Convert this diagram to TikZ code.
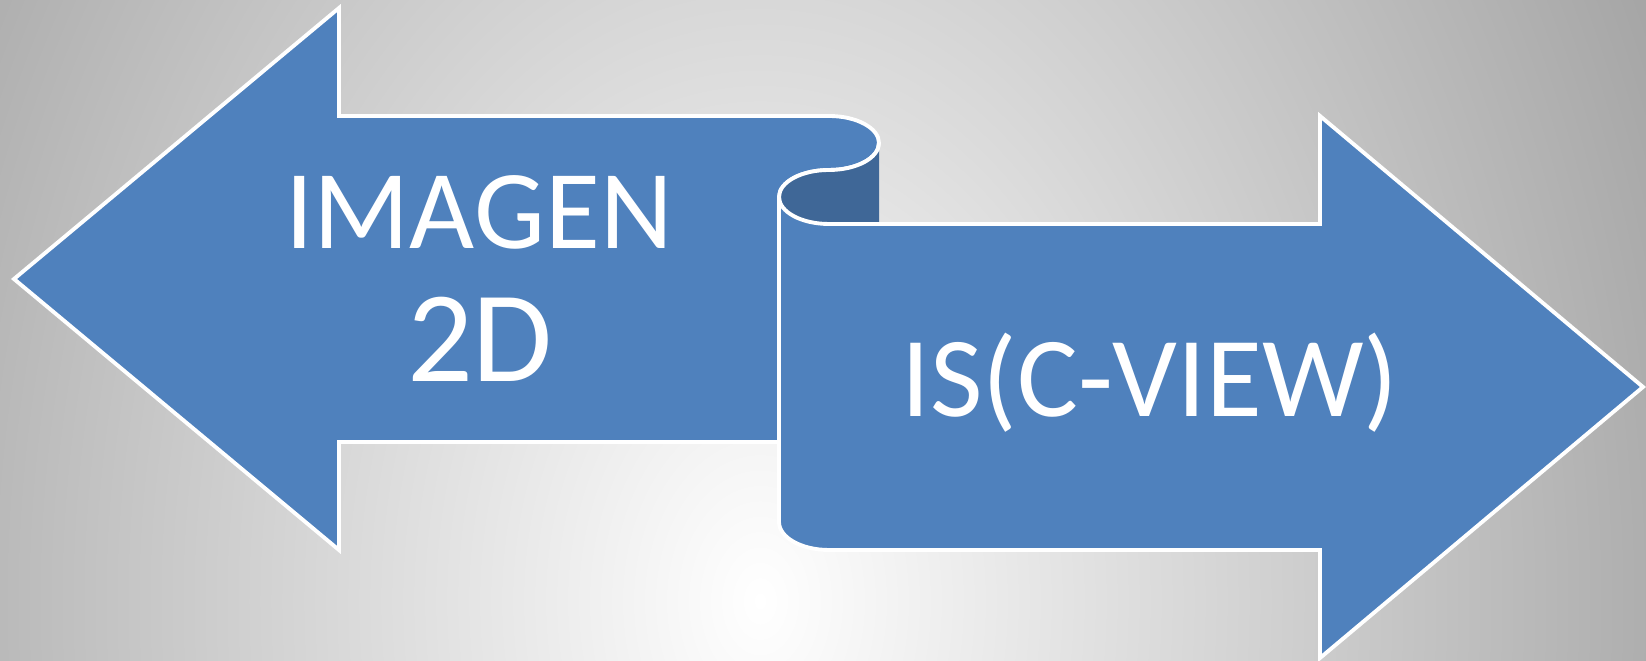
\documentclass[tikz,border=0pt]{standalone}
\usepackage{fontspec}
\setmainfont{Carlito}
\usetikzlibrary{positioning}
\definecolor{arrowblue}{HTML}{4F81BD}
\definecolor{curlblue}{HTML}{3F6797}
\definecolor{bggray}{HTML}{A4A4A4}
\pgfdeclareradialshading{backglow}{\pgfpoint{0bp}{0bp}}{color(0bp)=(white); color(25bp)=(bggray); color(50bp)=(bggray)}

\begin{document}
\begin{tikzpicture}[x=0.02cm, y=0.02cm,
                arrowbody/.style={fill=arrowblue, draw=white, line width=2.2pt},
                curl/.style={fill=curlblue},
                labeltext/.style={text=white, inner sep=0pt, anchor=base,
                    font=\fontsize{64}{75}\selectfont}]
                \useasboundingbox (0,0) rectangle (1646,661);
                % background
                \begin{scope}
                    \clip (0,0) rectangle (1646,661);
                    \shade[shading=backglow] (760,60) ellipse [x radius=1000, y radius=1400];
                \end{scope}
                % left arrow, its shaft rolls into the curl
                \draw[arrowbody] (779,219) -- (339,219) -- (339,111) -- (14,382)
                    -- (339,653) -- (339,545) -- (829,545)
                    arc[start angle=90, end angle=-90, x radius=50, y radius=27]
                    arc[start angle=90, end angle=180, x radius=50, y radius=27] -- cycle;
                % inside of the curl
                \fill[curl] (879,518) arc[start angle=0, end angle=-90, x radius=50, y radius=27]
                    arc[start angle=90, end angle=270, x radius=50, y radius=27]
                    -- (879,437) -- cycle;
                \draw[draw=white, line width=2.2pt] (879,518)
                    arc[start angle=0, end angle=-90, x radius=50, y radius=27]
                    arc[start angle=90, end angle=180, x radius=50, y radius=27];
                % right arrow
                \draw[arrowbody] (829,437) -- (1320,437) -- (1320,545) -- (1643,274)
                    -- (1320,3) -- (1320,111) -- (829,111)
                    arc[start angle=270, end angle=180, x radius=50, y radius=28]
                    -- (779,464)
                    arc[start angle=180, end angle=270, x radius=50, y radius=27] -- cycle;
                % labels
                \node[labeltext] (imagen) at (479,412) {IMAGEN};
                \node[labeltext, font=\fontsize{74}{80}\selectfont] (twod) at (480,279) {2D};
                \node[labeltext, font=\fontsize{65}{75}\selectfont] (cview) at (1150,244) {IS(C-VIEW)};
            \end{tikzpicture}
\end{document}
